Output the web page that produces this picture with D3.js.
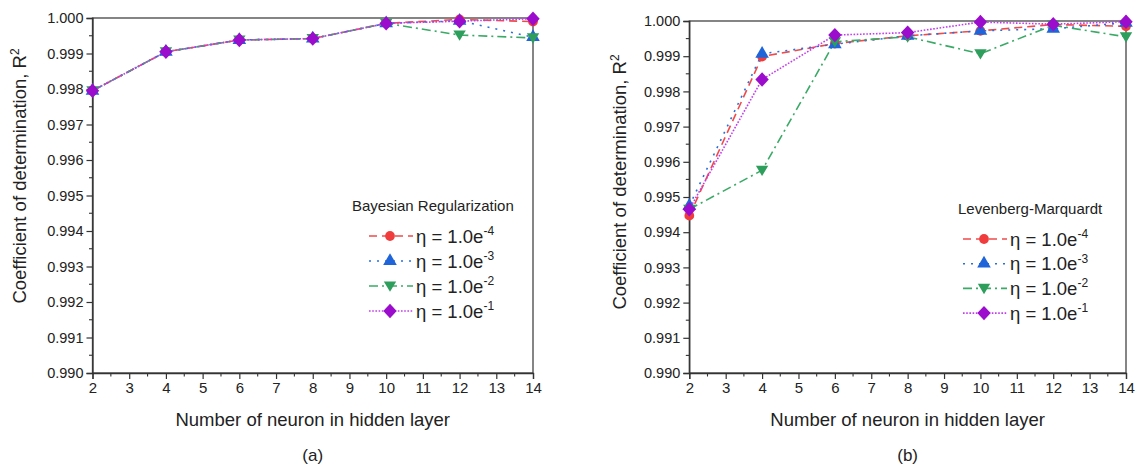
<!DOCTYPE html>
<html>
<head>
<meta charset="utf-8">
<script src="https://cdn.jsdelivr.net/npm/d3@7"></script>
<style>
  html, body { margin: 0; padding: 0; background: #fff; }
  svg { display: block; font-family: "Liberation Sans", Arial, sans-serif; }
</style>
</head>
<body>
<svg id="chart" width="1137" height="466"></svg>
<script>
// ---------- data ----------
const neurons = [2, 4, 6, 8, 10, 12, 14];
const xTicks = [2, 3, 4, 5, 6, 7, 8, 9, 10, 11, 12, 13, 14];
const yTicks = [0.990, 0.991, 0.992, 0.993, 0.994, 0.995, 0.996, 0.997, 0.998, 0.999, 1.000];
const seriesNames = ["-4", "-3", "-2", "-1"];

// (a) Bayesian Regularization
const br_e4 = [0.99795, 0.99905, 0.99938, 0.99942, 0.99985, 0.99996, 0.99990];
const br_e3 = [0.99795, 0.99905, 0.99938, 0.99942, 0.99985, 0.99992, 0.99946];
const br_e2 = [0.99795, 0.99905, 0.99938, 0.99942, 0.99985, 0.99952, 0.99944];
const br_e1 = [0.99795, 0.99905, 0.99938, 0.99942, 0.99985, 0.99991, 0.99998];

// (b) Levenberg-Marquardt
const lm_e4 = [0.99447, 0.99899, 0.99936, 0.99958, 0.99972, 0.99990, 0.99985];
const lm_e3 = [0.99475, 0.99907, 0.99934, 0.99958, 0.99972, 0.99978, 0.99995];
const lm_e2 = [0.99465, 0.99576, 0.99941, 0.99955, 0.99907, 0.99988, 0.99955];
const lm_e1 = [0.99465, 0.99834, 0.99960, 0.99967, 0.99997, 0.99991, 0.99998];

// ---------- styles ----------
const styles = [
  { line: "#f24a4a", fill: "#f03c3c", dash: "8,5", marker: "circle" },
  { line: "#2a6fdc", fill: "#1f64d8", dash: "2,6", marker: "triangle" },
  { line: "#3aaa66", fill: "#2e9e5c", dash: "9,4,2,4", marker: "triangleDown" },
  { line: "#c33cf0", fill: "#9b0ccc", dash: "1.6,1.6", marker: "diamond" }
];

const svg = d3.select("#chart");

function markerPath(type) {
  if (type === "circle") return d3.symbol(d3.symbolCircle, 75)();
  if (type === "triangle") return d3.symbol(d3.symbolTriangle, 80)();
  if (type === "triangleDown") return "M-6.2,-4.6L6.2,-4.6L0,5.8Z";
  if (type === "diamond") return "M0,-7.2L6.7,0L0,7.2L-6.7,0Z";
}

function panel(cfg) {
  const x = d3.scaleLinear().domain([2, 14]).range([cfg.x0, cfg.x1]);
  const y = d3.scaleLinear().domain([0.990, 1.000]).range([cfg.y1, cfg.y0]);
  const g = svg.append("g");
  const axisColor = "#333";

  // frame
  g.append("rect").attr("x", cfg.x0).attr("y", cfg.y0)
    .attr("width", cfg.x1 - cfg.x0).attr("height", cfg.y1 - cfg.y0)
    .attr("fill", "none").attr("stroke", "#444").attr("stroke-width", 1.3);

  // x axis
  const xa = g.append("g").attr("transform", `translate(0,${cfg.y1})`)
    .call(d3.axisBottom(x).tickValues(xTicks).tickFormat(d3.format("d")).tickSize(6).tickPadding(3));
  xa.select(".domain").attr("stroke", axisColor).attr("stroke-width", 1.3);
  xa.selectAll(".tick line").attr("stroke", axisColor).attr("stroke-width", 1.2);
  xa.selectAll(".tick text").attr("font-size", 15).attr("fill", "#222")
    .attr("font-family", "Liberation Sans, Arial, sans-serif");
  // minor x ticks
  g.selectAll(".xminor").data(d3.range(2.5, 14, 1)).enter().append("line")
    .attr("x1", d => x(d)).attr("x2", d => x(d))
    .attr("y1", cfg.y1).attr("y2", cfg.y1 + 3.5)
    .attr("stroke", axisColor).attr("stroke-width", 1.1);

  // y axis
  const ya = g.append("g").attr("transform", `translate(${cfg.x0},0)`)
    .call(d3.axisLeft(y).tickValues(yTicks).tickFormat(d3.format(".3f")).tickSize(6).tickPadding(3));
  ya.select(".domain").attr("stroke", axisColor).attr("stroke-width", 1.3);
  ya.selectAll(".tick line").attr("stroke", axisColor).attr("stroke-width", 1.2);
  ya.selectAll(".tick text").attr("font-size", 14.5).attr("fill", "#222")
    .attr("font-family", "Liberation Sans, Arial, sans-serif");
  g.selectAll(".yminor").data(d3.range(0.9905, 1.0, 0.001)).enter().append("line")
    .attr("x1", cfg.x0).attr("x2", cfg.x0 - 3.5)
    .attr("y1", d => y(d)).attr("y2", d => y(d))
    .attr("stroke", axisColor).attr("stroke-width", 1.1);

  // axis titles
  g.append("text").attr("x", (cfg.x0 + cfg.x1) / 2).attr("y", cfg.y1 + 53)
    .attr("text-anchor", "middle").attr("font-size", 18.5).attr("fill", "#222")
    .text("Number of neuron in hidden layer");
  const yl = g.append("text")
    .attr("transform", `translate(${cfg.ylabX},${cfg.ylabY}) rotate(-90)`)
    .attr("text-anchor", "middle").attr("font-size", 18.5).attr("fill", "#222");
  yl.append("tspan").text("Coefficient of determination, R");
  yl.append("tspan").attr("dy", -7).attr("font-size", 12).text("2");

  g.append("text").attr("x", (cfg.x0 + cfg.x1) / 2).attr("y", 461)
    .attr("text-anchor", "middle").attr("font-size", 17).attr("fill", "#222")
    .text(cfg.caption);

  // lines & markers
  const line = d3.line().x((d, i) => x(neurons[i])).y(d => y(d));
  cfg.series.forEach((vals, k) => {
    const s = styles[k];
    g.append("path").attr("d", line(vals)).attr("fill", "none")
      .attr("stroke", s.line).attr("stroke-width", 1.6)
      .attr("stroke-dasharray", s.dash);
  });
  cfg.series.forEach((vals, k) => {
    const s = styles[k];
    g.selectAll(null).data(vals).enter().append("path")
      .attr("d", markerPath(s.marker))
      .attr("transform", (d, i) => `translate(${x(neurons[i])},${y(d)})`)
      .attr("fill", s.fill);
  });

  // legend
  const lg = g.append("g");
  lg.append("text").attr("x", cfg.legTitleX).attr("y", cfg.legTitleY)
    .attr("font-size", 15).attr("fill", "#222").text(cfg.title);
  seriesNames.forEach((nm, k) => {
    const s = styles[k];
    const yy = cfg.legY0 + k * cfg.legStep;
    lg.append("line").attr("x1", cfg.legX).attr("x2", cfg.legX + 44)
      .attr("y1", yy).attr("y2", yy).attr("stroke", s.line)
      .attr("stroke-width", 1.6).attr("stroke-dasharray", s.dash);
    lg.append("path").attr("d", markerPath(s.marker))
      .attr("transform", `translate(${cfg.legX + 21},${yy})`).attr("fill", s.fill);
    const t = lg.append("text").attr("x", cfg.legX + 47).attr("y", yy + 6.5)
      .attr("font-size", 18.5).attr("fill", "#222");
    t.append("tspan").text("η = 1.0e");
    t.append("tspan").attr("dy", -7.5).attr("font-size", 12).text(nm);
  });
}

panel({
  x0: 92.5, x1: 533, y0: 18, y1: 373,
  ylabX: 26, ylabY: 176,
  caption: "(a)",
  title: "Bayesian Regularization",
  legTitleX: 352, legTitleY: 211, legX: 369, legY0: 236, legStep: 25,
  series: [br_e4, br_e3, br_e2, br_e1]
});

panel({
  x0: 689.3, x1: 1126, y0: 21, y1: 373,
  ylabX: 626, ylabY: 182,
  caption: "(b)",
  title: "Levenberg-Marquardt",
  legTitleX: 958, legTitleY: 214, legX: 963, legY0: 239, legStep: 24.7,
  series: [lm_e4, lm_e3, lm_e2, lm_e1]
});
</script>
</body>
</html>
